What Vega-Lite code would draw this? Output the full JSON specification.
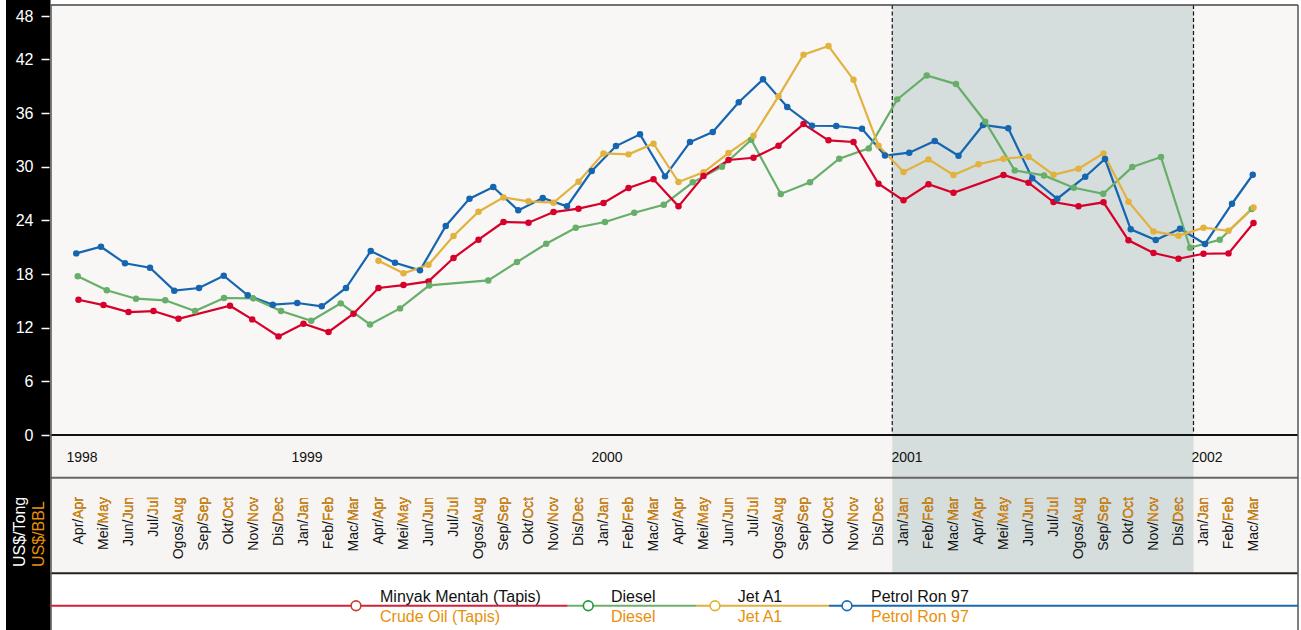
{
"$schema": "https://vega.github.io/schema/vega-lite/v6.json",
"width": 1250, "height": 630, "autosize": {"type": "none"}, "padding": {"left": 51, "top": 0, "right": 0, "bottom": 0},
"background": "white",
"config": {"view": {"stroke": null}, "text": {"font": "Liberation Sans"}},
"datasets": {
"prices": [
{"series":"Petrol Ron 97","t":-0.09,"price":20.31},{"series":"Petrol Ron 97","t":0.9,"price":21.05},{"series":"Petrol Ron 97","t":1.86,"price":19.2},{"series":"Petrol Ron 97","t":2.86,"price":18.71},{"series":"Petrol Ron 97","t":3.83,"price":16.14},{"series":"Petrol Ron 97","t":4.82,"price":16.44},{"series":"Petrol Ron 97","t":5.81,"price":17.81},{"series":"Petrol Ron 97","t":6.77,"price":15.62},{"series":"Petrol Ron 97","t":7.77,"price":14.57},{"series":"Petrol Ron 97","t":8.75,"price":14.76},{"series":"Petrol Ron 97","t":9.73,"price":14.39},{"series":"Petrol Ron 97","t":10.7,"price":16.44},{"series":"Petrol Ron 97","t":11.69,"price":20.57},{"series":"Petrol Ron 97","t":12.66,"price":19.27},{"series":"Petrol Ron 97","t":13.66,"price":18.41},{"series":"Petrol Ron 97","t":14.69,"price":23.37},{"series":"Petrol Ron 97","t":15.64,"price":26.43},{"series":"Petrol Ron 97","t":16.59,"price":27.73},{"series":"Petrol Ron 97","t":17.59,"price":25.12},{"series":"Petrol Ron 97","t":18.57,"price":26.5},{"series":"Petrol Ron 97","t":19.54,"price":25.57},{"series":"Petrol Ron 97","t":20.53,"price":29.52},{"series":"Petrol Ron 97","t":21.5,"price":32.31},{"series":"Petrol Ron 97","t":22.46,"price":33.62},{"series":"Petrol Ron 97","t":23.46,"price":28.92},{"series":"Petrol Ron 97","t":24.46,"price":32.76},{"series":"Petrol Ron 97","t":25.37,"price":33.88},{"series":"Petrol Ron 97","t":26.41,"price":37.2},{"series":"Petrol Ron 97","t":27.38,"price":39.77},{"series":"Petrol Ron 97","t":28.35,"price":36.67},{"series":"Petrol Ron 97","t":29.34,"price":34.58},{"series":"Petrol Ron 97","t":30.31,"price":34.55},{"series":"Petrol Ron 97","t":31.34,"price":34.25},{"series":"Petrol Ron 97","t":32.26,"price":31.25},{"series":"Petrol Ron 97","t":33.23,"price":31.57},{"series":"Petrol Ron 97","t":34.25,"price":32.87},{"series":"Petrol Ron 97","t":35.2,"price":31.23},{"series":"Petrol Ron 97","t":36.18,"price":34.66},{"series":"Petrol Ron 97","t":37.19,"price":34.29},{"series":"Petrol Ron 97","t":38.15,"price":28.7},{"series":"Petrol Ron 97","t":39.15,"price":26.42},{"series":"Petrol Ron 97","t":40.27,"price":28.88},{"series":"Petrol Ron 97","t":41.06,"price":30.86},{"series":"Petrol Ron 97","t":42.09,"price":23.0},{"series":"Petrol Ron 97","t":43.09,"price":21.8},{"series":"Petrol Ron 97","t":44.06,"price":23.07},{"series":"Petrol Ron 97","t":45.06,"price":21.36},{"series":"Petrol Ron 97","t":46.14,"price":25.86},{"series":"Petrol Ron 97","t":46.97,"price":29.1},
{"series":"Diesel","t":-0.03,"price":17.74},{"series":"Diesel","t":1.13,"price":16.18},{"series":"Diesel","t":2.3,"price":15.24},{"series":"Diesel","t":3.47,"price":15.06},{"series":"Diesel","t":4.66,"price":13.86},{"series":"Diesel","t":5.82,"price":15.32},{"series":"Diesel","t":6.99,"price":15.28},{"series":"Diesel","t":8.1,"price":13.86},{"series":"Diesel","t":9.31,"price":12.78},{"series":"Diesel","t":10.49,"price":14.72},{"series":"Diesel","t":11.66,"price":12.37},{"series":"Diesel","t":12.86,"price":14.16},{"series":"Diesel","t":14.03,"price":16.73},{"series":"Diesel","t":16.39,"price":17.29},{"series":"Diesel","t":17.54,"price":19.34},{"series":"Diesel","t":18.71,"price":21.39},{"series":"Diesel","t":19.89,"price":23.18},{"series":"Diesel","t":21.06,"price":23.82},{"series":"Diesel","t":22.23,"price":24.86},{"series":"Diesel","t":23.41,"price":25.75},{"series":"Diesel","t":24.57,"price":28.25},{"series":"Diesel","t":25.74,"price":30.0},{"series":"Diesel","t":26.91,"price":33.02},{"series":"Diesel","t":28.09,"price":26.95},{"series":"Diesel","t":29.26,"price":28.25},{"series":"Diesel","t":30.43,"price":30.9},{"series":"Diesel","t":31.61,"price":32.05},{"series":"Diesel","t":32.75,"price":37.53},{"series":"Diesel","t":33.93,"price":40.21},{"series":"Diesel","t":35.1,"price":39.24},{"series":"Diesel","t":36.27,"price":35.03},{"series":"Diesel","t":37.45,"price":29.59},{"series":"Diesel","t":38.62,"price":29.03},{"series":"Diesel","t":39.81,"price":27.65},{"series":"Diesel","t":40.99,"price":26.98},{"series":"Diesel","t":42.15,"price":29.96},{"series":"Diesel","t":43.3,"price":31.08},{"series":"Diesel","t":44.46,"price":20.94},{"series":"Diesel","t":45.65,"price":21.84},{"series":"Diesel","t":46.93,"price":25.27},
{"series":"Jet A1","t":12,"price":19.49},{"series":"Jet A1","t":13,"price":18.08},{"series":"Jet A1","t":14,"price":19.04},{"series":"Jet A1","t":15,"price":22.25},{"series":"Jet A1","t":16,"price":24.97},{"series":"Jet A1","t":17,"price":26.57},{"series":"Jet A1","t":18,"price":26.13},{"series":"Jet A1","t":19,"price":25.98},{"series":"Jet A1","t":20,"price":28.32},{"series":"Jet A1","t":21,"price":31.49},{"series":"Jet A1","t":22,"price":31.38},{"series":"Jet A1","t":23,"price":32.57},{"series":"Jet A1","t":24,"price":28.29},{"series":"Jet A1","t":25,"price":29.37},{"series":"Jet A1","t":26,"price":31.53},{"series":"Jet A1","t":27,"price":33.46},{"series":"Jet A1","t":28,"price":37.87},{"series":"Jet A1","t":29,"price":42.52},{"series":"Jet A1","t":30,"price":43.49},{"series":"Jet A1","t":31,"price":39.73},{"series":"Jet A1","t":32,"price":32.35},{"series":"Jet A1","t":33,"price":29.41},{"series":"Jet A1","t":34,"price":30.82},{"series":"Jet A1","t":35,"price":29.07},{"series":"Jet A1","t":36,"price":30.27},{"series":"Jet A1","t":37,"price":30.9},{"series":"Jet A1","t":38,"price":31.12},{"series":"Jet A1","t":39,"price":29.1},{"series":"Jet A1","t":40,"price":29.78},{"series":"Jet A1","t":41,"price":31.49},{"series":"Jet A1","t":42,"price":26.09},{"series":"Jet A1","t":43,"price":22.77},{"series":"Jet A1","t":44,"price":22.28},{"series":"Jet A1","t":45,"price":23.18},{"series":"Jet A1","t":46,"price":22.84},{"series":"Jet A1","t":47,"price":25.45},
{"series":"Minyak Mentah (Tapis)","t":0,"price":15.13},{"series":"Minyak Mentah (Tapis)","t":1,"price":14.53},{"series":"Minyak Mentah (Tapis)","t":2,"price":13.75},{"series":"Minyak Mentah (Tapis)","t":3,"price":13.86},{"series":"Minyak Mentah (Tapis)","t":4,"price":13.0},{"series":"Minyak Mentah (Tapis)","t":6.06,"price":14.46},{"series":"Minyak Mentah (Tapis)","t":6.95,"price":12.93},{"series":"Minyak Mentah (Tapis)","t":8,"price":11.03},{"series":"Minyak Mentah (Tapis)","t":9,"price":12.45},{"series":"Minyak Mentah (Tapis)","t":10,"price":11.52},{"series":"Minyak Mentah (Tapis)","t":11,"price":13.56},{"series":"Minyak Mentah (Tapis)","t":12,"price":16.44},{"series":"Minyak Mentah (Tapis)","t":13,"price":16.77},{"series":"Minyak Mentah (Tapis)","t":14,"price":17.18},{"series":"Minyak Mentah (Tapis)","t":15,"price":19.79},{"series":"Minyak Mentah (Tapis)","t":16,"price":21.84},{"series":"Minyak Mentah (Tapis)","t":17,"price":23.82},{"series":"Minyak Mentah (Tapis)","t":18,"price":23.74},{"series":"Minyak Mentah (Tapis)","t":19,"price":24.93},{"series":"Minyak Mentah (Tapis)","t":20,"price":25.31},{"series":"Minyak Mentah (Tapis)","t":21,"price":25.94},{"series":"Minyak Mentah (Tapis)","t":22,"price":27.62},{"series":"Minyak Mentah (Tapis)","t":23,"price":28.59},{"series":"Minyak Mentah (Tapis)","t":24,"price":25.57},{"series":"Minyak Mentah (Tapis)","t":25,"price":28.96},{"series":"Minyak Mentah (Tapis)","t":26,"price":30.75},{"series":"Minyak Mentah (Tapis)","t":27,"price":31.0},{"series":"Minyak Mentah (Tapis)","t":28,"price":32.35},{"series":"Minyak Mentah (Tapis)","t":29,"price":34.77},{"series":"Minyak Mentah (Tapis)","t":30,"price":32.95},{"series":"Minyak Mentah (Tapis)","t":31,"price":32.76},{"series":"Minyak Mentah (Tapis)","t":32,"price":28.1},{"series":"Minyak Mentah (Tapis)","t":33,"price":26.24},{"series":"Minyak Mentah (Tapis)","t":34,"price":28.03},{"series":"Minyak Mentah (Tapis)","t":35,"price":27.09},{"series":"Minyak Mentah (Tapis)","t":37,"price":29.07},{"series":"Minyak Mentah (Tapis)","t":38,"price":28.21},{"series":"Minyak Mentah (Tapis)","t":39,"price":26.05},{"series":"Minyak Mentah (Tapis)","t":40,"price":25.57},{"series":"Minyak Mentah (Tapis)","t":41,"price":26.02},{"series":"Minyak Mentah (Tapis)","t":42,"price":21.77},{"series":"Minyak Mentah (Tapis)","t":43,"price":20.35},{"series":"Minyak Mentah (Tapis)","t":44,"price":19.71},{"series":"Minyak Mentah (Tapis)","t":45,"price":20.27},{"series":"Minyak Mentah (Tapis)","t":46,"price":20.31},{"series":"Minyak Mentah (Tapis)","t":47,"price":23.7}
],
"months": [
{"m":0,"label":"Apr/Apr","en":"Apr","year":"1998"},{"m":1,"label":"Mei/May","en":"May"},{"m":2,"label":"Jun/Jun","en":"Jun"},{"m":3,"label":"Jul/Jul","en":"Jul"},{"m":4,"label":"Ogos/Aug","en":"Aug"},{"m":5,"label":"Sep/Sep","en":"Sep"},{"m":6,"label":"Okt/Oct","en":"Oct"},{"m":7,"label":"Nov/Nov","en":"Nov"},{"m":8,"label":"Dis/Dec","en":"Dec"},
{"m":9,"label":"Jan/Jan","en":"Jan","year":"1999"},{"m":10,"label":"Feb/Feb","en":"Feb"},{"m":11,"label":"Mac/Mar","en":"Mar"},{"m":12,"label":"Apr/Apr","en":"Apr"},{"m":13,"label":"Mei/May","en":"May"},{"m":14,"label":"Jun/Jun","en":"Jun"},{"m":15,"label":"Jul/Jul","en":"Jul"},{"m":16,"label":"Ogos/Aug","en":"Aug"},{"m":17,"label":"Sep/Sep","en":"Sep"},{"m":18,"label":"Okt/Oct","en":"Oct"},{"m":19,"label":"Nov/Nov","en":"Nov"},{"m":20,"label":"Dis/Dec","en":"Dec"},
{"m":21,"label":"Jan/Jan","en":"Jan","year":"2000"},{"m":22,"label":"Feb/Feb","en":"Feb"},{"m":23,"label":"Mac/Mar","en":"Mar"},{"m":24,"label":"Apr/Apr","en":"Apr"},{"m":25,"label":"Mei/May","en":"May"},{"m":26,"label":"Jun/Jun","en":"Jun"},{"m":27,"label":"Jul/Jul","en":"Jul"},{"m":28,"label":"Ogos/Aug","en":"Aug"},{"m":29,"label":"Sep/Sep","en":"Sep"},{"m":30,"label":"Okt/Oct","en":"Oct"},{"m":31,"label":"Nov/Nov","en":"Nov"},{"m":32,"label":"Dis/Dec","en":"Dec"},
{"m":33,"label":"Jan/Jan","en":"Jan","year":"2001"},{"m":34,"label":"Feb/Feb","en":"Feb"},{"m":35,"label":"Mac/Mar","en":"Mar"},{"m":36,"label":"Apr/Apr","en":"Apr"},{"m":37,"label":"Mei/May","en":"May"},{"m":38,"label":"Jun/Jun","en":"Jun"},{"m":39,"label":"Jul/Jul","en":"Jul"},{"m":40,"label":"Ogos/Aug","en":"Aug"},{"m":41,"label":"Sep/Sep","en":"Sep"},{"m":42,"label":"Okt/Oct","en":"Oct"},{"m":43,"label":"Nov/Nov","en":"Nov"},{"m":44,"label":"Dis/Dec","en":"Dec"},
{"m":45,"label":"Jan/Jan","en":"Jan","year":"2002"},{"m":46,"label":"Feb/Feb","en":"Feb"},{"m":47,"label":"Mac/Mar","en":"Mar"}
]
},
"layer": [
{"data": {"values": [{}]}, "mark": {"type": "rect", "color": "#000000"},
 "encoding": {
  "x": {"datum": -2.9, "type": "quantitative", "scale": {"domain": [-1.1, 48.9], "nice": false, "zero": false}, "axis": null},
  "x2": {"datum": -1.12},
  "y": {"datum": 48.64, "type": "quantitative", "scale": {"domain": [-21.8, 48.64], "nice": false, "zero": false}},
  "y2": {"datum": -21.8}}},
{"data": {"values": [{}]}, "mark": {"type": "rect", "color": "#f8f7f5"},
 "encoding": {"x": {"datum": -1.12, "type": "quantitative", "axis": null}, "x2": {"datum": 48.78}, "y": {"datum": 48.08, "type": "quantitative"}, "y2": {"datum": 0}}},
{"data": {"values": [{}]}, "mark": {"type": "rect", "color": "#f6f5f3"},
 "encoding": {"x": {"datum": -1.12, "type": "quantitative", "axis": null}, "x2": {"datum": 48.78}, "y": {"datum": 0, "type": "quantitative"}, "y2": {"datum": -15.46}}},
{"data": {"values": [{}]}, "mark": {"type": "rect", "color": "#d5dedd"},
 "encoding": {"x": {"datum": 32.55, "type": "quantitative", "axis": null}, "x2": {"datum": 44.6}, "y": {"datum": 48.08, "type": "quantitative"}, "y2": {"datum": -15.46}}},
{"data": {"values": [{}]}, "mark": {"type": "rule", "color": "#111111", "strokeWidth": 1.2, "strokeDash": [4, 2.5]},
 "encoding": {"x": {"datum": 32.55, "type": "quantitative", "axis": null}, "y": {"datum": 48.08, "type": "quantitative"}, "y2": {"datum": 0}}},
{"data": {"values": [{}]}, "mark": {"type": "rule", "color": "#111111", "strokeWidth": 1.2, "strokeDash": [4, 2.5]},
 "encoding": {"x": {"datum": 44.6, "type": "quantitative", "axis": null}, "y": {"datum": 48.08, "type": "quantitative"}, "y2": {"datum": 0}}},
{"data": {"name": "prices"}, "mark": {"type": "line", "strokeWidth": 2.2, "point": {"filled": true, "size": 42, "opacity": 1}},
 "encoding": {
  "x": {"field": "t", "type": "quantitative", "axis": null, "scale": {"domain": [-1.1, 48.9], "nice": false, "zero": false}},
  "y": {"field": "price", "type": "quantitative", "scale": {"domain": [-21.8, 48.64], "nice": false, "zero": false},
        "axis": {"values": [0,6,12,18,24,30,36,42,46.8], "labelExpr": "datum.value > 46 ? '48' : datum.label", "title": null, "domain": false, "grid": false, "ticks": true, "tickColor": "white", "tickSize": 8, "tickWidth": 1.5, "labelColor": "white", "labelFontSize": 16, "labelFont": "Liberation Sans", "labelPadding": 8, "offset": 2, "labelOverlap": false, "labelFlush": false, "labelBound": false, "zindex": 2}},
  "color": {"field": "series", "type": "nominal", "legend": null, "scale": {"domain": ["Minyak Mentah (Tapis)", "Diesel", "Jet A1", "Petrol Ron 97"], "range": ["#d6002b", "#67ae69", "#e2b23e", "#1565b0"]}},
  "order": {"field": "t"}}},
{"data": {"name": "months"}, "mark": {"type": "text", "angle": 270, "align": "right", "baseline": "middle", "fontSize": 14, "color": "#111111", "font": "Liberation Sans"},
 "encoding": {"x": {"field": "m", "type": "quantitative", "axis": null}, "y": {"datum": -6.93, "type": "quantitative"}, "text": {"field": "label"}}},
{"data": {"name": "months"}, "mark": {"type": "text", "angle": 270, "align": "right", "baseline": "middle", "fontSize": 14, "color": "#e8900a", "font": "Liberation Sans"},
 "encoding": {"x": {"field": "m", "type": "quantitative", "axis": null}, "y": {"datum": -6.93, "type": "quantitative"}, "text": {"field": "en"}}},
{"data": {"name": "months"}, "transform": [{"filter": "datum.year != null"}], "mark": {"type": "text", "align": "left", "baseline": "middle", "dx": -12, "fontSize": 14, "color": "#111111", "font": "Liberation Sans"},
 "encoding": {"x": {"field": "m", "type": "quantitative", "axis": null}, "y": {"datum": -2.57, "type": "quantitative"}, "text": {"field": "year"}}},
{"data": {"values": [{}]}, "mark": {"type": "rule", "color": "#444444", "strokeWidth": 1.5},
 "encoding": {"x": {"datum": -1.12, "type": "quantitative", "axis": null}, "x2": {"datum": 48.78}, "y": {"datum": 48.08, "type": "quantitative"}}},
{"data": {"values": [{}]}, "mark": {"type": "rule", "color": "#111111", "strokeWidth": 2},
 "encoding": {"x": {"datum": -1.12, "type": "quantitative", "axis": null}, "x2": {"datum": 48.78}, "y": {"datum": 0, "type": "quantitative"}}},
{"data": {"values": [{}]}, "mark": {"type": "rule", "color": "#666666", "strokeWidth": 2},
 "encoding": {"x": {"datum": -1.12, "type": "quantitative", "axis": null}, "x2": {"datum": 48.78}, "y": {"datum": -4.77, "type": "quantitative"}}},
{"data": {"values": [{}]}, "mark": {"type": "rule", "color": "#222222", "strokeWidth": 2},
 "encoding": {"x": {"datum": -1.12, "type": "quantitative", "axis": null}, "x2": {"datum": 48.78}, "y": {"datum": -15.46, "type": "quantitative"}}},
{"data": {"values": [{}]}, "mark": {"type": "rule", "color": "#555555", "strokeWidth": 1.5},
 "encoding": {"x": {"datum": -1.1, "type": "quantitative", "axis": null}, "y": {"datum": 48.08, "type": "quantitative"}, "y2": {"datum": -21.8}}},
{"data": {"values": [{}]}, "mark": {"type": "rule", "color": "#555555", "strokeWidth": 1.5},
 "encoding": {"x": {"datum": 48.78, "type": "quantitative", "axis": null}, "y": {"datum": 48.08, "type": "quantitative"}, "y2": {"datum": -21.8}}},
{"data": {"values": [{}]}, "mark": {"type": "text", "text": "US$/Tong", "angle": 270, "align": "left", "baseline": "middle", "fontSize": 16, "color": "white", "font": "Liberation Sans"},
 "encoding": {"x": {"datum": -2.34, "type": "quantitative", "axis": null}, "y": {"datum": -14.76, "type": "quantitative"}}},
{"data": {"values": [{}]}, "mark": {"type": "text", "text": "US$/BBL", "angle": 270, "align": "left", "baseline": "middle", "fontSize": 16, "color": "#e8900a", "font": "Liberation Sans"},
 "encoding": {"x": {"datum": -1.6, "type": "quantitative", "axis": null}, "y": {"datum": -14.76, "type": "quantitative"}}},
{"data": {"values": [{}]}, "mark": {"type": "rule", "color": "#d2213a", "strokeWidth": 2},
 "encoding": {"x": {"datum": -1.1, "type": "quantitative", "axis": null}, "x2": {"datum": 19.57}, "y": {"datum": -19.09, "type": "quantitative"}}},
{"data": {"values": [{}]}, "mark": {"type": "rule", "color": "#6cb06c", "strokeWidth": 2},
 "encoding": {"x": {"datum": 19.57, "type": "quantitative", "axis": null}, "x2": {"datum": 24.73}, "y": {"datum": -19.09, "type": "quantitative"}}},
{"data": {"values": [{}]}, "mark": {"type": "rule", "color": "#e0b040", "strokeWidth": 2},
 "encoding": {"x": {"datum": 24.73, "type": "quantitative", "axis": null}, "x2": {"datum": 30.02}, "y": {"datum": -19.09, "type": "quantitative"}}},
{"data": {"values": [{}]}, "mark": {"type": "rule", "color": "#1a68b0", "strokeWidth": 2},
 "encoding": {"x": {"datum": 30.02, "type": "quantitative", "axis": null}, "x2": {"datum": 48.78}, "y": {"datum": -19.09, "type": "quantitative"}}},
{"data": {"values": [{}]}, "mark": {"type": "point", "shape": "circle", "size": 95, "filled": true, "fill": "white", "stroke": "#c4402a", "strokeWidth": 1.6, "opacity": 1},
 "encoding": {"x": {"datum": 11.1, "type": "quantitative", "axis": null}, "y": {"datum": -19.09, "type": "quantitative"}}},
{"data": {"values": [{}]}, "mark": {"type": "point", "shape": "circle", "size": 95, "filled": true, "fill": "white", "stroke": "#1e9b3c", "strokeWidth": 1.6, "opacity": 1},
 "encoding": {"x": {"datum": 20.39, "type": "quantitative", "axis": null}, "y": {"datum": -19.09, "type": "quantitative"}}},
{"data": {"values": [{}]}, "mark": {"type": "point", "shape": "circle", "size": 95, "filled": true, "fill": "white", "stroke": "#e3b22b", "strokeWidth": 1.6, "opacity": 1},
 "encoding": {"x": {"datum": 25.46, "type": "quantitative", "axis": null}, "y": {"datum": -19.09, "type": "quantitative"}}},
{"data": {"values": [{}]}, "mark": {"type": "point", "shape": "circle", "size": 95, "filled": true, "fill": "white", "stroke": "#1b6bb3", "strokeWidth": 1.6, "opacity": 1},
 "encoding": {"x": {"datum": 30.74, "type": "quantitative", "axis": null}, "y": {"datum": -19.09, "type": "quantitative"}}},
{"data": {"values": [{}]}, "mark": {"type": "text", "text": "Minyak Mentah (Tapis)", "align": "left", "baseline": "alphabetic", "fontSize": 16, "color": "#111111", "font": "Liberation Sans"},
 "encoding": {"x": {"datum": 12.06, "type": "quantitative", "axis": null}, "y": {"datum": -18.67, "type": "quantitative"}}},
{"data": {"values": [{}]}, "mark": {"type": "text", "text": "Crude Oil (Tapis)", "align": "left", "baseline": "alphabetic", "fontSize": 16, "color": "#e8900a", "font": "Liberation Sans"},
 "encoding": {"x": {"datum": 12.06, "type": "quantitative", "axis": null}, "y": {"datum": -20.85, "type": "quantitative"}}},
{"data": {"values": [{}]}, "mark": {"type": "text", "text": "Diesel", "align": "left", "baseline": "alphabetic", "fontSize": 16, "color": "#111111", "font": "Liberation Sans"},
 "encoding": {"x": {"datum": 21.3, "type": "quantitative", "axis": null}, "y": {"datum": -18.67, "type": "quantitative"}}},
{"data": {"values": [{}]}, "mark": {"type": "text", "text": "Diesel", "align": "left", "baseline": "alphabetic", "fontSize": 16, "color": "#e8900a", "font": "Liberation Sans"},
 "encoding": {"x": {"datum": 21.3, "type": "quantitative", "axis": null}, "y": {"datum": -20.85, "type": "quantitative"}}},
{"data": {"values": [{}]}, "mark": {"type": "text", "text": "Jet A1", "align": "left", "baseline": "alphabetic", "fontSize": 16, "color": "#111111", "font": "Liberation Sans"},
 "encoding": {"x": {"datum": 26.37, "type": "quantitative", "axis": null}, "y": {"datum": -18.67, "type": "quantitative"}}},
{"data": {"values": [{}]}, "mark": {"type": "text", "text": "Jet A1", "align": "left", "baseline": "alphabetic", "fontSize": 16, "color": "#e8900a", "font": "Liberation Sans"},
 "encoding": {"x": {"datum": 26.37, "type": "quantitative", "axis": null}, "y": {"datum": -20.85, "type": "quantitative"}}},
{"data": {"values": [{}]}, "mark": {"type": "text", "text": "Petrol Ron 97", "align": "left", "baseline": "alphabetic", "fontSize": 16, "color": "#111111", "font": "Liberation Sans"},
 "encoding": {"x": {"datum": 31.7, "type": "quantitative", "axis": null}, "y": {"datum": -18.67, "type": "quantitative"}}},
{"data": {"values": [{}]}, "mark": {"type": "text", "text": "Petrol Ron 97", "align": "left", "baseline": "alphabetic", "fontSize": 16, "color": "#e8900a", "font": "Liberation Sans"},
 "encoding": {"x": {"datum": 31.7, "type": "quantitative", "axis": null}, "y": {"datum": -20.85, "type": "quantitative"}}}
]
}
